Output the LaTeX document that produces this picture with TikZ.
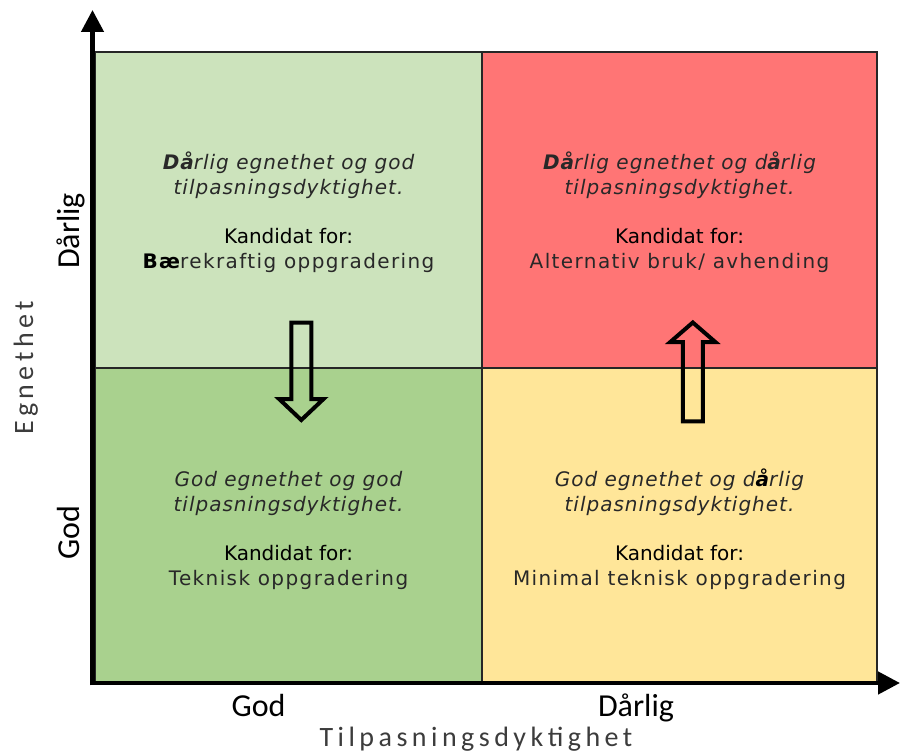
\documentclass[tikz,border=0pt]{standalone}
\usepackage{fontspec}
\usetikzlibrary{arrows.meta}
\setmainfont{DejaVu Sans}
\newfontfamily\qfont{DejaVu Sans}
\newfontfamily\qfontsp{DejaVu Sans}[LetterSpace=5]
\newfontfamily\qfontcand{DejaVu Sans}[LetterSpace=7]
\newfontfamily\axfont{Carlito}
\newfontfamily\axlight{Carlito}[LetterSpace=16]

\definecolor{qTL}{RGB}{204,227,188}
\definecolor{qBL}{RGB}{169,209,142}
\definecolor{qTR}{RGB}{255,117,117}
\definecolor{qBR}{RGB}{255,230,153}
\definecolor{txtgray}{RGB}{40,40,40}
\definecolor{axgray}{RGB}{60,60,60}

\tikzset{
  quad/.style={draw=black!85, line width=1.4pt, minimum width=387pt, minimum height=316pt,
    anchor=north west, inner sep=0pt, outer sep=0pt},
  desc/.style={anchor=base, inner sep=0pt, text=txtgray,
    font=\qfontsp\fontsize{20}{24}\selectfont\itshape},
  candhead/.style={anchor=base, inner sep=0pt, text=black,
    font=\qfont\fontsize{20}{24}\selectfont},
  candtext/.style={anchor=base, inner sep=0pt, text=txtgray,
    font=\qfontcand\fontsize{20}{24}\selectfont},
  axlabel/.style={anchor=base, inner sep=0pt, text=black,
    font=\axfont\fontsize{32}{36}\selectfont},
  axtitle/.style={anchor=base, inner sep=0pt, text=axgray,
    font=\axlight\fontsize{28}{32}\selectfont},
  axis/.style={line width=4.5pt, -{Triangle[length=22pt,width=22pt]}},
  blockarrow/.style={draw=black, line width=4pt, line join=miter, fill=none},
}

\begin{document}
\begin{tikzpicture}[x=1pt, y=-1pt]
\useasboundingbox (0,0) rectangle (901,754);

% quadrants
\node[quad, fill=qTL, minimum width=387pt] (tl) at (95,52) {};
\node[quad, fill=qTR, minimum width=395pt] (tr) at (482,52) {};
\node[quad, fill=qBL, minimum width=387pt, minimum height=315pt] (bl) at (95,368) {};
\node[quad, fill=qBR, minimum width=395pt, minimum height=315pt] (br) at (482,368) {};

% top left
\node[desc] (tla) at (288.5,169) {{\bfseries Då}rlig egnethet og god};
\node[desc] (tlb) at (288.5,194) {tilpasningsdyktighet.};
\node[candhead] (tlc) at (288.5,243) {Kandidat for:};
\node[candtext] (tld) at (288.5,268) {{\bfseries\color{black}Bæ}rekraftig oppgradering};

% top right
\node[desc] (tra) at (679.5,169) {{\bfseries Då}rlig egnethet og d{\bfseries å}rlig};
\node[desc] (trb) at (679.5,194) {tilpasningsdyktighet.};
\node[candhead] (trc) at (679.5,243) {Kandidat for:};
\node[candtext] (trd) at (679.5,268) {Alternativ bruk/ avhending};

% bottom left
\node[desc] (bla) at (288.5,486) {God egnethet og god};
\node[desc] (blb) at (288.5,511) {tilpasningsdyktighet.};
\node[candhead] (blc) at (288.5,560) {Kandidat for:};
\node[candtext] (bld) at (288.5,585) {Teknisk oppgradering};

% bottom right
\node[desc] (bra) at (679.5,486) {God egnethet og d{\bfseries\color{black}å}rlig};
\node[desc] (brb) at (679.5,511) {tilpasningsdyktighet.};
\node[candhead] (brc) at (679.5,560) {Kandidat for:};
\node[candtext] (brd) at (679.5,585) {Minimal teknisk oppgradering};

% hollow block arrows
\draw[blockarrow] (291.3,322.7) -- (311.3,322.7) -- (311.3,399) -- (323.5,399)
  -- (301.3,420) -- (279.1,399) -- (291.3,399) -- cycle;
\draw[blockarrow] (682.8,421.3) -- (702.8,421.3) -- (702.8,342) -- (715.3,342)
  -- (692.8,322.5) -- (670.3,342) -- (682.8,342) -- cycle;

% axes
\coordinate (origin) at (92.5,683);
\coordinate (ytip) at (92.5,10);
\coordinate (xtip) at (900,683);
\draw[axis] ([yshift=-2.25pt]origin) -- (ytip);
\draw[axis] ([xshift=-2.25pt]origin) -- (xtip);

% axis labels
\node[axlabel] (xgod) at (258.5,716.5) {God};
\node[axlabel] (xdarlig) at (636,716.5) {Dårlig};
\node[axtitle] (xtitle) at (476,746.5) {Tilpasningsdyktighet};
\node[axlabel, rotate=90] (ygod) at (79,533) {God};
\node[axlabel, rotate=90] (ydarlig) at (79,231) {Dårlig};
\node[axtitle, rotate=90] (ytitle) at (33,368) {Egnethet};
\end{tikzpicture}
\end{document}
